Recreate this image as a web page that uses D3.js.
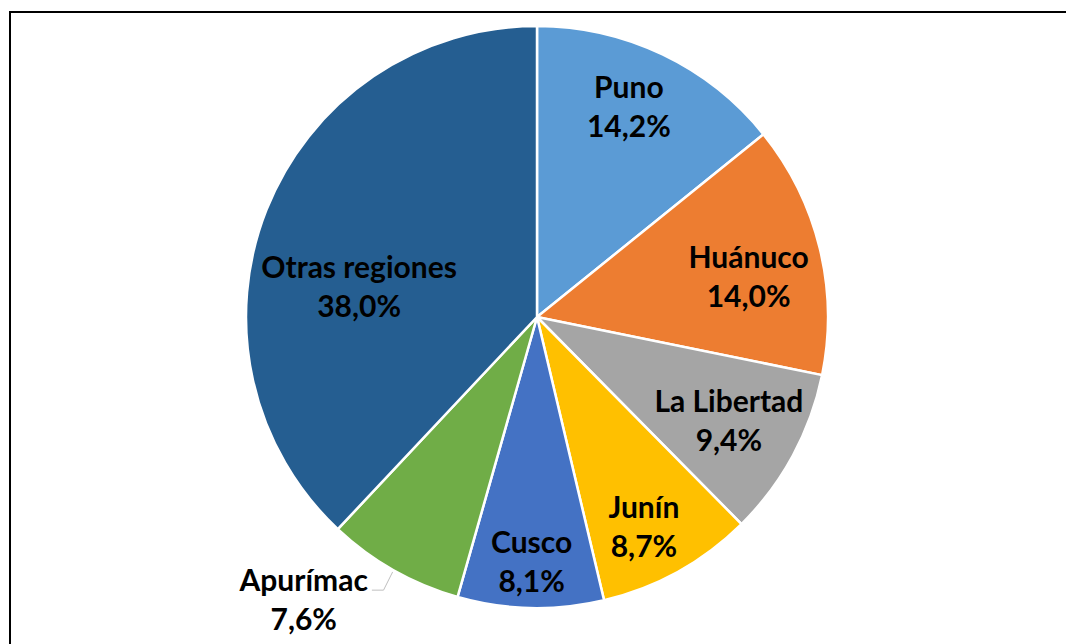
<!DOCTYPE html>
<html>
<head>
<meta charset="utf-8">
<script src="https://cdn.jsdelivr.net/npm/d3@7"></script>
<style>
  body { margin: 0; background: #fff; }
  svg text { font-family: Lato, "Open Sans", sans-serif; font-weight: bold; }
</style>
</head>
<body>
<svg id="chart"></svg>
<script>
// regions and their share (%)
const regions = ["Puno", "Huánuco", "La Libertad", "Junín", "Cusco", "Apurímac", "Otras regiones"];
const shares = [14.2, 14.0, 9.4, 8.7, 8.1, 7.6, 38.0];
const shareLabels = ["14,2%", "14,0%", "9,4%", "8,7%", "8,1%", "7,6%", "38,0%"];
const colors = ["#5B9BD5", "#ED7D31", "#A5A5A5", "#FFC000", "#4472C4", "#70AD47", "#255E91"];

// label placement: fraction of radius and angle tweak (degrees) per slice
const labelRadius = [0.79, 0.74, 0.75, 0.81, 0.84, 1.26, 0.62];
const labelAngle = [-2, 3, 0, 2, 0, 10, -12];

const width = 1066, height = 644;
const cx = 537, cy = 317, radius = 291;

const svg = d3.select("#chart")
    .attr("width", width)
    .attr("height", height);

// frame (runs off the right and bottom edges in the original)
svg.append("path")
    .attr("d", `M10,${height + 5} V12 H${width + 5}`)
    .attr("fill", "none")
    .attr("stroke", "#000")
    .attr("stroke-width", 2);

const data = regions.map((r, i) => ({ name: r, value: shares[i], label: shareLabels[i], color: colors[i], i: i }));

const pie = d3.pie()
    .value(d => d.value)
    .sort(null);

const arc = d3.arc()
    .innerRadius(0)
    .outerRadius(radius);

const g = svg.append("g")
    .attr("transform", `translate(${cx},${cy})`);

const arcs = pie(data);

g.selectAll(".slice")
  .data(arcs)
  .join("path")
    .attr("class", "slice")
    .attr("d", arc)
    .attr("fill", d => d.data.color)
    .attr("stroke", "#fff")
    .attr("stroke-width", 2.5);

function polar(a, r) {
  return [Math.sin(a) * r, -Math.cos(a) * r];
}

const fontSize = 30, lineGap = 39;

arcs.forEach(d => {
  const i = d.data.i;
  const mid = (d.startAngle + d.endAngle) / 2;
  const a = mid + labelAngle[i] * Math.PI / 180;
  const [lx, ly] = polar(a, radius * labelRadius[i]);
  const base1 = ly - lineGap / 2 + fontSize * 0.36;

  const t = g.append("text")
      .attr("text-anchor", "middle")
      .attr("font-size", fontSize)
      .attr("fill", "#000");
  t.append("tspan")
      .attr("x", lx)
      .attr("y", base1)
      .text(d.data.name);
  t.append("tspan")
      .attr("x", lx)
      .attr("y", ly + lineGap / 2 + fontSize * 0.36)
      .text(d.data.label);

  // leader line for the label outside the pie
  if (labelRadius[i] > 1) {
    const [ex, ey] = polar(mid, radius + 2);
    const lineY = base1 - 1;
    const bx = ex - (lineY - ey) * 0.5;
    const tw = t.node().getBBox();
    const endX = tw.x + tw.width + 4;
    g.append("path")
        .attr("d", `M${ex},${ey} L${bx},${lineY} H${endX}`)
        .attr("fill", "none")
        .attr("stroke", "#bfbfbf")
        .attr("stroke-width", 1);
  }
});
</script>
</body>
</html>
